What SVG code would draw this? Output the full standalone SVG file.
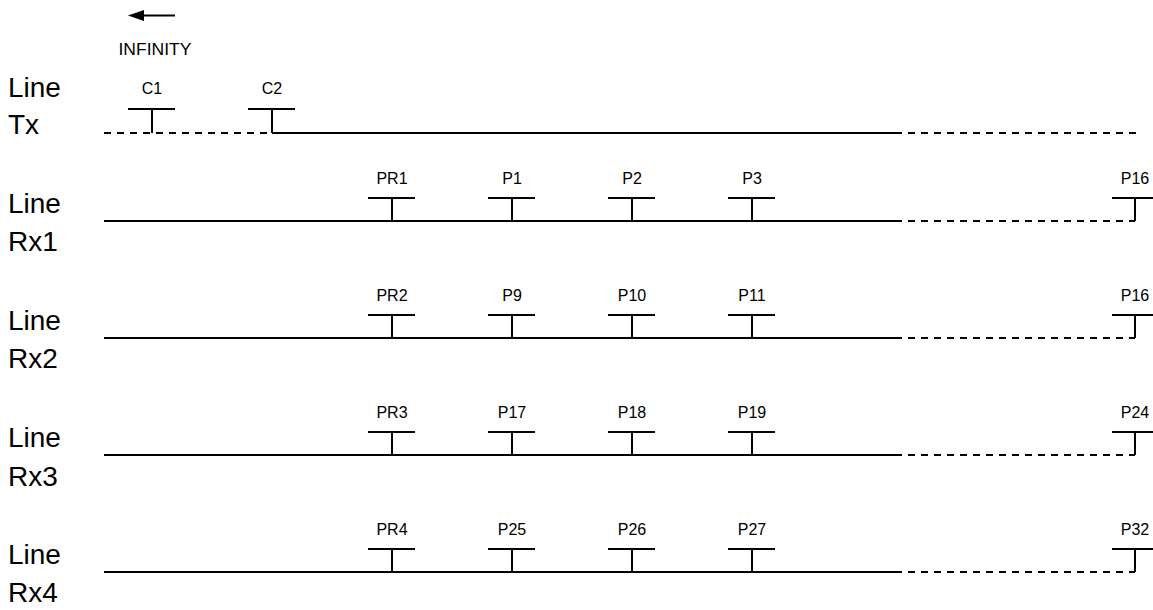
<svg xmlns="http://www.w3.org/2000/svg" width="1153" height="610" viewBox="0 0 1153 610">
<style>
.ln{stroke:#000;stroke-width:2;fill:none}
.ds{stroke:#000;stroke-width:2;fill:none;stroke-dasharray:7 6}
.big{font-family:"Liberation Sans",Arial,sans-serif;font-size:28px;fill:#000}
.sm{font-family:"Liberation Sans",Arial,sans-serif;font-size:16px;fill:#000;text-anchor:middle}
</style>
<rect width="1153" height="610" fill="#fff"/>
<g id="infinity">
<line x1="175" y1="15.5" x2="144" y2="15.5" class="ln"/>
<path d="M128,15.5 L144,10 L144,21 z" fill="#000"/>
<text x="155" y="55" class="sm" textLength="73" lengthAdjust="spacingAndGlyphs">INFINITY</text>
</g>
<g id="labels">
<text x="8" y="97" class="big">Line</text><text x="8" y="134" class="big">Tx</text>
<text x="8" y="213" class="big">Line</text><text x="8" y="251" class="big">Rx1</text>
<text x="8" y="330" class="big">Line</text><text x="8" y="368" class="big">Rx2</text>
<text x="8" y="447" class="big">Line</text><text x="8" y="486" class="big">Rx3</text>
<text x="8" y="564" class="big">Line</text><text x="8" y="602" class="big">Rx4</text>
</g>
<g id="connectors">
<line x1="104" y1="133" x2="272" y2="133" class="ds"/>
<line x1="272" y1="133" x2="895" y2="133" class="ln"/>
<line x1="895" y1="133" x2="1136" y2="133" class="ds"/>
<line x1="104" y1="221" x2="895" y2="221" class="ln"/>
<line x1="895" y1="221" x2="1135" y2="221" class="ds"/>
<line x1="104" y1="338" x2="895" y2="338" class="ln"/>
<line x1="895" y1="338" x2="1135" y2="338" class="ds"/>
<line x1="104" y1="455" x2="895" y2="455" class="ln"/>
<line x1="895" y1="455" x2="1135" y2="455" class="ds"/>
<line x1="104" y1="572" x2="895" y2="572" class="ln"/>
<line x1="895" y1="572" x2="1135" y2="572" class="ds"/>
</g>
<g id="tx-taps">
<g id="C1"><path d="M128,109 H175 M152,109 V133" class="ln"/><text x="152" y="94" class="sm">C1</text></g>
<g id="C2"><path d="M248,109 H295 M272,109 V133" class="ln"/><text x="272" y="94" class="sm">C2</text></g>
</g>
<g id="rx1-taps">
<g id="PR1"><path d="M368,198 H415 M392,198 V221" class="ln"/><text x="392" y="184" class="sm">PR1</text></g>
<g id="P1"><path d="M488,198 H535 M512,198 V221" class="ln"/><text x="512" y="184" class="sm">P1</text></g>
<g id="P2"><path d="M608,198 H655 M632,198 V221" class="ln"/><text x="632" y="184" class="sm">P2</text></g>
<g id="P3"><path d="M728,198 H775 M752,198 V221" class="ln"/><text x="752" y="184" class="sm">P3</text></g>
<g id="P16a"><path d="M1112,198 H1153 M1135,198 V221" class="ln"/><text x="1135" y="184" class="sm">P16</text></g>
</g>
<g id="rx2-taps">
<g id="PR2"><path d="M368,315 H415 M392,315 V338" class="ln"/><text x="392" y="301" class="sm">PR2</text></g>
<g id="P9"><path d="M488,315 H535 M512,315 V338" class="ln"/><text x="512" y="301" class="sm">P9</text></g>
<g id="P10"><path d="M608,315 H655 M632,315 V338" class="ln"/><text x="632" y="301" class="sm">P10</text></g>
<g id="P11"><path d="M728,315 H775 M752,315 V338" class="ln"/><text x="752" y="301" class="sm">P11</text></g>
<g id="P16b"><path d="M1112,315 H1153 M1135,315 V338" class="ln"/><text x="1135" y="301" class="sm">P16</text></g>
</g>
<g id="rx3-taps">
<g id="PR3"><path d="M368,432 H415 M392,432 V455" class="ln"/><text x="392" y="418" class="sm">PR3</text></g>
<g id="P17"><path d="M488,432 H535 M512,432 V455" class="ln"/><text x="512" y="418" class="sm">P17</text></g>
<g id="P18"><path d="M608,432 H655 M632,432 V455" class="ln"/><text x="632" y="418" class="sm">P18</text></g>
<g id="P19"><path d="M728,432 H775 M752,432 V455" class="ln"/><text x="752" y="418" class="sm">P19</text></g>
<g id="P24"><path d="M1112,432 H1153 M1135,432 V455" class="ln"/><text x="1135" y="418" class="sm">P24</text></g>
</g>
<g id="rx4-taps">
<g id="PR4"><path d="M368,549 H415 M392,549 V572" class="ln"/><text x="392" y="535" class="sm">PR4</text></g>
<g id="P25"><path d="M488,549 H535 M512,549 V572" class="ln"/><text x="512" y="535" class="sm">P25</text></g>
<g id="P26"><path d="M608,549 H655 M632,549 V572" class="ln"/><text x="632" y="535" class="sm">P26</text></g>
<g id="P27"><path d="M728,549 H775 M752,549 V572" class="ln"/><text x="752" y="535" class="sm">P27</text></g>
<g id="P32"><path d="M1112,549 H1153 M1135,549 V572" class="ln"/><text x="1135" y="535" class="sm">P32</text></g>
</g>
</svg>
